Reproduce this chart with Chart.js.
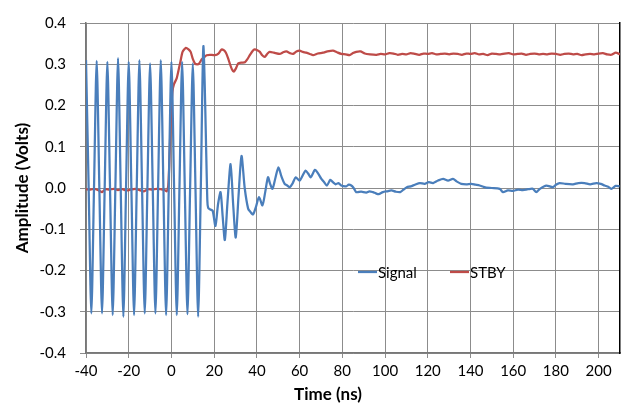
<!DOCTYPE html>
<html>
<head>
<meta charset="utf-8">
<script src="https://cdn.jsdelivr.net/npm/chart.js@4.4.1/dist/chart.umd.min.js"></script>
<style>
  body { margin: 0; background: #fff; }
  #wrap { width: 626px; height: 415px; }
</style>
</head>
<body>
<div id="wrap"><canvas id="myChart" width="626" height="415"></canvas></div>
<script>
// time in ns, amplitude in volts
const signalTime = [
  -40, -38.75, -37.5, -36.25, -35, -33.75, -32.5, -31.25, -30, -28.75, -27.5, -26.25,
  -25, -23.75, -22.5, -21.25, -20, -18.75, -17.5, -16.25, -15, -13.75, -12.5, -11.25,
  -10, -8.75, -7.5, -6.25, -5, -3.75, -2.5, -1.25, 0, 1.25, 2.5, 3.75,
  5, 6.25, 7.5, 8.75, 10, 11.25, 12.5, 13.75, 15, 16.8,
  17.2, 18.2, 19.3, 20.6, 21.8, 23, 24, 25, 26.3, 27.7, 28.9, 30.1, 31.4, 32.8, 34.3,
  35.9, 37, 38.2, 39.6, 41, 42.6, 43.9, 45.2, 46.2, 47.3, 48.7, 50.1, 51.5, 53, 54.2,
  55.4, 56.8, 58.2, 60, 61.4, 62.8, 64, 65.2, 67.2, 68.7, 70.2, 71.5, 72.8, 74.4, 75.6,
  76.9, 78.2, 79.5, 81.8, 83, 84.2, 85.3, 86.5, 88.8, 91.2, 92.7, 94.3, 95.7, 97, 99,
  100.9, 103, 105, 107.1, 108.6, 110.2, 112, 114, 116.3, 118.5, 120.5, 122.5, 124.8,
  127.2, 129.5, 131.8, 133.5, 135.7, 138, 140.4, 142.3, 144.3, 146, 147.4, 150, 153.7,
  155.2, 157.5, 159.9, 162.2, 164.5, 167, 169.2, 170.8, 172.5, 175.5, 178.6, 180, 181.7,
  184.5, 188, 190.5, 193.4, 196, 198.9, 201, 202.8, 204.5, 205.9, 208, 209.8
];
const signalValues = [
  0.310, 0, -0.304, 0, 0.308, 0, -0.304, 0, 0.306, 0, -0.308, 0,
  0.315, 0, -0.312, 0, 0.306, 0, -0.308, 0, 0.310, 0, -0.304, 0,
  0.302, 0, -0.304, 0, 0.310, 0, -0.308, 0, 0.306, 0, -0.308, 0,
  0.306, 0, -0.306, 0, 0.302, 0, -0.312, 0, 0.344, -0.03,
  -0.048, -0.052, -0.055, -0.092, -0.040, -0.010, -0.070, -0.126, -0.030, 0.058, -0.040, -0.120, -0.020, 0.078, 0.000,
  -0.050, -0.058, -0.064, -0.045, -0.022, -0.042, -0.010, 0.026, 0.010, -0.002, 0.025, 0.050, 0.028, 0.010, 0.006,
  0.002, 0.012, 0.026, 0.018, 0.030, 0.042, 0.035, 0.026, 0.044, 0.035, 0.022, 0.014, 0.006, 0.020, 0.014,
  0.009, 0.012, 0.006, 0.004, 0.008, 0.006, 0.000, -0.010, -0.009, -0.011, -0.008, -0.010, -0.013, -0.015, -0.010,
  -0.008, -0.006, -0.009, -0.010, -0.004, 0.002, 0.004, 0.008, 0.012, 0.010, 0.014, 0.012, 0.018,
  0.022, 0.018, 0.022, 0.016, 0.010, 0.009, 0.010, 0.008, 0.006, 0.003, 0.001, 0.000, -0.002,
  -0.010, -0.006, -0.007, -0.004, -0.005, -0.003, -0.002, -0.010, -0.002, 0.006, 0.002, 0.008, 0.012,
  0.010, 0.009, 0.012, 0.012, 0.009, 0.012, 0.010, 0.006, 0.003, -0.002, 0.005, 0.004
];

const stbyTime = [
  -40, -38, -36, -34, -32.5, -31, -29, -27, -25, -23, -21, -19, -17, -15, -13, -11, -9, -7, -5, -3.5,
  -2.3, -1.5, -1, -0.5, 0, 0.5, 1.2, 2.4, 3.3, 4.2, 5.2, 6.8, 8, 9, 10, 11, 12.1, 13, 14.2, 15.5,
  16.5, 18, 20.3, 22, 23.5, 24.5, 25.5, 26.5, 27.3, 28.3, 29.2, 30.2, 31.3, 33, 34.4, 35.5, 36.7, 38, 39, 40.2,
  41.4, 42.5, 43.7, 45, 46, 48, 50.7, 52.3, 53.8, 55.5, 56.9, 58.5, 60, 61.5, 63.1, 64.8, 66.3, 68.5, 70.9, 73,
  75.6, 77.5, 79.5, 81.5, 83.4, 85, 86.5, 88.5, 90.5, 93, 96, 98, 100, 102, 104, 106, 108, 110, 112, 114,
  116, 118, 120, 122, 124, 126, 128, 130, 132, 134, 136, 138, 140, 142, 144, 146, 148, 150, 152, 154,
  156, 158, 160, 162, 164, 166, 168, 170, 172, 174, 176, 178, 180, 182, 184, 186, 188, 190, 192, 194,
  196, 198, 200, 202, 204, 206, 208, 210
];
const stbyValues = [
  -0.003, -0.004, -0.002, -0.006, -0.010, -0.003, -0.004, -0.002, -0.005, -0.003, -0.006, -0.004, -0.002, -0.005, -0.008, -0.003, -0.004, -0.002, -0.003, -0.004,
  -0.008, 0.005, 0.060, 0.140, 0.200, 0.235, 0.252, 0.265, 0.285, 0.306, 0.330, 0.340, 0.336, 0.330, 0.313, 0.302, 0.300, 0.302, 0.312, 0.318,
  0.322, 0.323, 0.322, 0.326, 0.336, 0.334, 0.328, 0.315, 0.302, 0.288, 0.282, 0.290, 0.302, 0.304, 0.305, 0.312, 0.322, 0.332, 0.336, 0.334,
  0.330, 0.322, 0.318, 0.326, 0.330, 0.328, 0.325, 0.329, 0.331, 0.327, 0.325, 0.331, 0.333, 0.330, 0.328, 0.325, 0.322, 0.326, 0.328, 0.331,
  0.333, 0.329, 0.325, 0.324, 0.322, 0.327, 0.330, 0.331, 0.326, 0.324, 0.323, 0.325, 0.324, 0.327, 0.326, 0.323, 0.325, 0.324, 0.327, 0.325,
  0.323, 0.326, 0.325, 0.327, 0.324, 0.325, 0.326, 0.324, 0.326, 0.325, 0.323, 0.326, 0.325, 0.327, 0.324, 0.325, 0.322, 0.326, 0.325, 0.324,
  0.326, 0.327, 0.324, 0.325, 0.326, 0.323, 0.325, 0.326, 0.324, 0.325, 0.324, 0.326, 0.325, 0.323, 0.325, 0.326, 0.324, 0.325, 0.322, 0.324,
  0.325, 0.324, 0.326, 0.327, 0.324, 0.323, 0.328, 0.324
];

const xTitle = "Time (ns)";
const yTitle = "Amplitude (Volts)";

function toPoints(xs, ys) {
  return xs.map((x, i) => ({ x: x, y: ys[i] }));
}

const FONT = "Lato, 'Open Sans', sans-serif";
const gridColor = "#8c8c8c";
const axisColor = "#777777";

// legend sits inside the plot with no box; x title is centred a bit left of the plot centre
const extras = {
  id: "extras",
  afterDatasetsDraw(chart) {
    const ctx = chart.ctx;
    const spots = [{ x: 358, y: 272 }, { x: 450, y: 272 }];
    ctx.save();
    ctx.font = "15px " + FONT;
    ctx.textBaseline = "middle";
    ctx.fillStyle = "#000";
    chart.data.datasets.forEach((ds, i) => {
      const p = spots[i];
      ctx.strokeStyle = ds.borderColor;
      ctx.lineWidth = 2.25;
      ctx.beginPath();
      ctx.moveTo(p.x, p.y);
      ctx.lineTo(p.x + 19, p.y);
      ctx.stroke();
      ctx.fillText(ds.label, p.x + 20, p.y + 1);
    });
    ctx.font = "bold 17px " + FONT;
    ctx.textAlign = "center";
    ctx.fillText(xTitle, 328, 395);
    ctx.restore();
  }
};

function drawChart() {
  let ctx = document.getElementById("myChart").getContext("2d");
  let myChart = new Chart(ctx, {
    type: "line",
    data: {
      datasets: [
        {
          label: "Signal",
          data: toPoints(signalTime, signalValues),
          borderColor: "#4a7ebb",
          borderWidth: 2.25,
          pointRadius: 0,
          tension: 0.25,
          fill: false,
        },
        {
          label: "STBY",
          data: toPoints(stbyTime, stbyValues),
          borderColor: "#be4b48",
          borderWidth: 2.25,
          pointRadius: 0,
          tension: 0.2,
          fill: false,
        },
      ],
    },
    options: {
      responsive: false,
      animation: false,
      layout: { padding: { left: 0, top: 17, right: 6, bottom: 0 } },
      plugins: {
        legend: { display: false },
        tooltip: { enabled: false },
      },
      scales: {
        x: {
          type: "linear",
          min: -40,
          max: 210,
          afterFit: (s) => { s.height = 62; },
          ticks: {
            stepSize: 20,
            includeBounds: false,
            color: "#000",
            padding: 4,
            font: { family: FONT, size: 15 },
          },
          grid: { color: gridColor, lineWidth: 1, tickLength: 5 },
          border: { color: axisColor, width: 1.5 },
        },
        y: {
          min: -0.4,
          max: 0.4,
          afterFit: (s) => { s.width = 86; },
          ticks: {
            stepSize: 0.1,
            color: "#000",
            padding: 14,
            font: { family: FONT, size: 15 },
            callback: (v) => Number(v).toFixed(1),
          },
          grid: { color: gridColor, lineWidth: 1, tickLength: 6 },
          border: { color: axisColor, width: 1.5 },
          title: {
            display: true,
            text: yTitle,
            color: "#000",
            font: { family: FONT, size: 17, weight: "bold" },
            padding: { top: 12, bottom: 0 },
          },
        },
        yRight: {
          position: "right",
          min: -0.4,
          max: 0.4,
          afterFit: (s) => { s.width = 0; },
          ticks: { display: false },
          grid: { display: false },
          border: { color: "#000", width: 1.5 },
        },
      },
    },
    plugins: [extras],
  });
}

drawChart();
</script>
</body>
</html>
